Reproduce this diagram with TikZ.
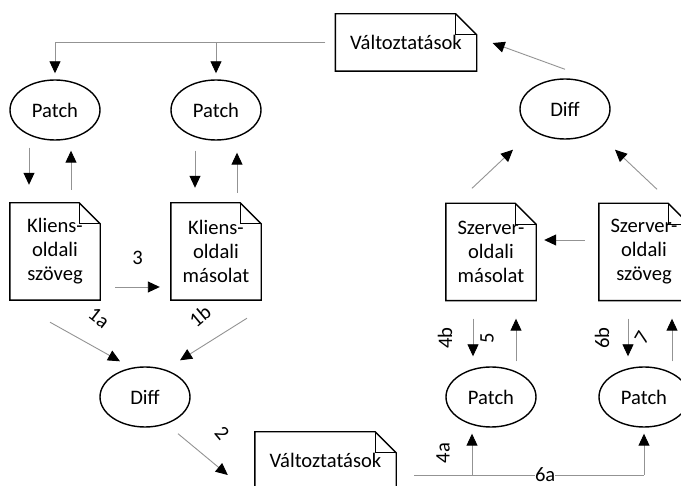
\documentclass[tikz,border=0pt]{standalone}
\usepackage{fontspec}
\setmainfont{Carlito}
\usetikzlibrary{arrows.meta,calc,shapes.geometric}

% outline of a document symbol with a folded top-right corner
\newcommand\docoutline[1]{%
  \draw[shapeline] (#1.south west) -- (#1.north west) -- ([xshift=-21pt]#1.north east)
    -- ([yshift=-21pt]#1.north east) -- (#1.south east) -- cycle;
  \draw[shapeline] ([xshift=-21pt]#1.north east) -- ([xshift=-21pt,yshift=-21pt]#1.north east)
    -- ([yshift=-21pt]#1.north east);}

\tikzset{
  txt/.style={font=\fontsize{20.6}{24}\selectfont},
  shapeline/.style={draw=black, line width=1.4pt, line join=miter},
  proc/.style={ellipse, shapeline, txt, minimum width=90pt, minimum height=60pt, inner sep=0pt},
  % document frame; its text is set as a centred label
  docnode/.style={inner sep=0pt, minimum width=90pt, minimum height=97pt,
    label={[txt, align=center, inner sep=0pt]center:#1}},
  notenode/.style={inner sep=0pt, minimum width=141pt, minimum height=57pt,
    label={[txt, inner sep=0pt]center:#1}},
  conn/.style={draw=gray!85, line width=0.9pt, -{Triangle[length=12pt,width=11pt,color=black]}},
  plain/.style={draw=gray!85, line width=0.9pt},
  lbl/.style={txt, inner sep=0pt},
}

\begin{document}
\begin{tikzpicture}[x=1pt, y=-1pt]
\useasboundingbox (0,0) rectangle (681,486);
\clip (0,0) rectangle (681,486);

% nodes
\node[notenode={Változtatások}] (vt) at (406,42.5) {};
\node[proc] (pa) at (55,110) {Patch};
\node[proc] (pb) at (216,110) {Patch};
\node[docnode={Kliens-\\oldali\\szöveg}] (ka) at (55,251.5) {};
\node[docnode={Kliens-\\oldali\\másolat}] (kb) at (216,251.5) {};
\node[proc] (da) at (145,397) {Diff};
\node[notenode={Változtatások}] (vb) at (325.5,460.5) {};
\node[docnode={Szerver-\\oldali\\másolat}] (sa) at (491,252) {};
\node[docnode={Szerver-\\oldali\\szöveg}] (sb) at (644,252) {};
\node[proc] (pc) at (491,397) {Patch};
\node[proc] (pd) at (644,397) {Patch};
\node[proc] (db) at (565,109) {Diff};

\docoutline{vt}
\docoutline{ka}
\docoutline{kb}
\docoutline{vb}
\docoutline{sa}
\docoutline{sb}

% changes distributed to the client-side patches
\coordinate (vtl) at ([shift={(-10,0)}]vt.west);
\draw[conn] (vtl) -| ([shift={(0,-6)}]pa.north);
\draw[conn] (pb |- vtl) -- ([shift={(0,-6)}]pb.north);

% patch <-> client documents
\draw[conn] ([shift={(-26,7)}]pa.south) -- ([shift={(-26,-18)}]ka.north);
\draw[conn] ([shift={(16,-13)}]ka.north) -- ([shift={(16,10)}]pa.south);
\draw[conn] ([shift={(-21,10)}]pb.south) -- ([shift={(-21,-15)}]kb.north);
\draw[conn] ([shift={(21,-10)}]kb.north) -- ([shift={(21,12)}]pb.south);

% copy step
\draw[conn] ([shift={(15,35.5)}]ka.east) -- node[lbl, midway, yshift=29pt] {3} ([shift={(-11,35.5)}]kb.west);

% client diff
\draw[conn] ([shift={(-5,22)}]ka.south) -- ([shift={(-25,-5)}]da.north);
\draw[conn] ([shift={(31,18)}]kb.south) -- ([shift={(35,-6)}]da.north);
\node[lbl, rotate=-38] (l1a) at (99,318) {1a};
\node[lbl, rotate=40] (l1b) at (200,316) {1b};

\draw[conn] ([shift={(33,6)}]da.south) -- ([shift={(-27,14.5)}]vb.west);
\node[lbl, rotate=-50] (l2) at (222,433) {2};

% changes sent to the server-side patches
\coordinate (vbr) at ([shift={(18,14.5)}]vb.east);
\draw[plain] (vbr) -- node[lbl, fill=white, pos=0.57] {6a} (vbr -| pd);
\draw[conn] (vbr -| pd) -- ([shift={(0,6)}]pd.south);
\draw[conn] (vbr -| {$(pc.south)+(-19,0)$}) -- ([shift={(-19,6)}]pc.south);
\node[lbl, rotate=90] (l4a) at (443,453) {4a};

% patch <-> server documents
\draw[conn] ([shift={(-18,18)}]sa.south) -- ([shift={(-18,-10)}]pc.north);
\draw[conn] ([shift={(25,-5)}]pc.north) -- ([shift={(25,18)}]sa.south);
\draw[conn] ([shift={(-16,18)}]sb.south) -- ([shift={(-16,-10)}]pd.north);
\draw[conn] ([shift={(28,-5)}]pd.north) -- ([shift={(28,18)}]sb.south);
\node[lbl, rotate=90] (l4b) at (445,338) {4b};
\node[lbl, rotate=90] (l5) at (487,338) {5};
\node[lbl, rotate=90] (l6b) at (602,338) {6b};
\node[lbl, rotate=60] (l7) at (642,338) {7};

% server text copied to the shadow
\draw[conn] ([shift={(-14,-12)}]sb.west) -- ([shift={(8,-12)}]sa.east);

% server diff
\draw[conn] ([shift={(-19,-15)}]sa.north) -- ([shift={(-52,10)}]db.south);
\draw[conn] ([shift={(13,-14)}]sb.north) -- ([shift={(50,10)}]db.south);
\draw[conn] ([shift={(0,-9)}]db.north) -- ([shift={(16,0.5)}]vt.east);
\end{tikzpicture}
\end{document}
